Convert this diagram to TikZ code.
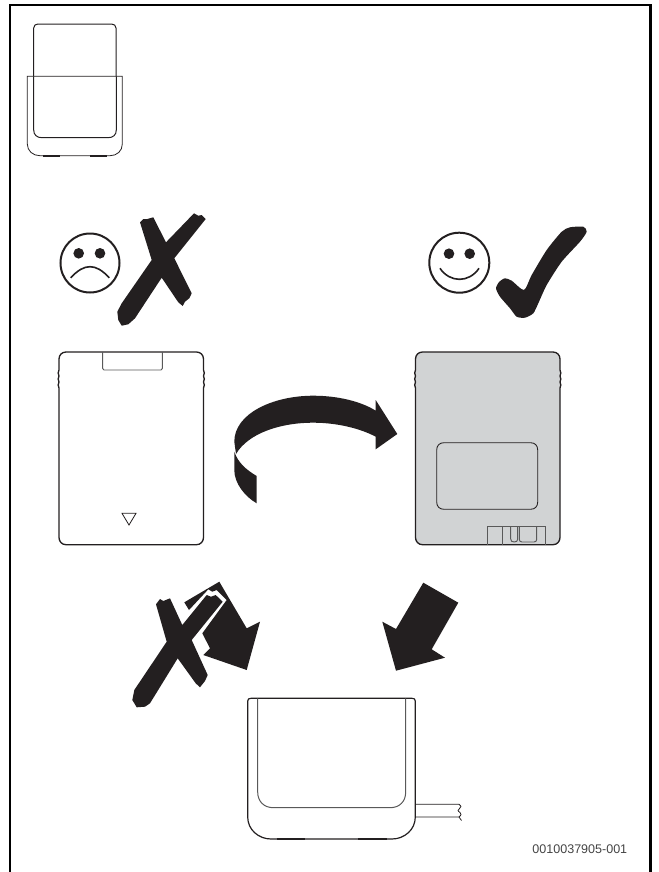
\documentclass[tikz,border=0pt]{standalone}
\usepackage{fontspec}
\setsansfont{Liberation Sans}
\usetikzlibrary{positioning,calc}
\definecolor{inkblack}{HTML}{231F20}
\definecolor{cardgray}{HTML}{D1D3D4}
\definecolor{codegray}{HTML}{444444}
\tikzset{
	frameline/.style={line width=1.6pt,black},
	thinline/.style={line width=0.75pt,inkblack},
	softline/.style={line width=0.7pt,black!65},
	blackfill/.style={fill=inkblack,draw=none},
	faceline/.style={line width=1.5pt,inkblack},
	codetext/.style={font=\sffamily\fontsize{9.4pt}{11pt}\selectfont,text=codegray,inner sep=0pt,anchor=base east}
}
\newcommand{\cardoutline}{(66,352) -- (196.5,352) .. controls (200.5,352) and (203.5,355) .. (203.5,359)
	-- (203.5,370) .. controls (204.6,373) .. (203.5,376) .. controls (204.6,379) .. (203.5,382) .. controls (204.6,385) .. (203.5,388)
	-- (203.5,537.5) .. controls (203.5,541.5) and (200.5,544.7) .. (196.5,544.7) -- (66,544.7) .. controls (62,544.7) and (59,541.5) .. (59,537.5)
	-- (59,388) .. controls (57.9,385) .. (59,382) .. controls (57.9,379) .. (59,376) .. controls (57.9,373) .. (59,370)
	-- (59,359) .. controls (59,355) and (62,352) .. (66,352) -- cycle}
\begin{document}
\begin{tikzpicture}[x=0.75pt,y=-0.75pt]
	\useasboundingbox (0,0) rectangle (658,872);
	\draw[frameline] (10.3,872) -- (10.3,5.3) -- (650.5,5.3) -- (650.5,872);

	% holder with card, top left
	\draw[thinline] (33.7,76.3) -- (33.7,28) .. controls (33.7,25.5) and (35.5,24) .. (38,24) -- (111.5,24) .. controls (114,24) and (116,25.5) .. (116,28) -- (116,76.3);
	\draw[thinline] (33.7,76.3) -- (33.7,130) .. controls (33.7,135) and (37,137.7) .. (42,137.7) -- (108,137.7) .. controls (113,137.7) and (116.3,135) .. (116.3,130) -- (116.3,76.3);
	\draw[thinline,line width=0.6pt] (27.3,76.3) -- (122.3,76.3) -- (122.3,144) .. controls (122.3,151) and (117,155.7) .. (110,155.7) -- (40,155.7) .. controls (33,155.7) and (27.3,151) .. (27.3,144) -- cycle;
	\draw[thinline,line width=1.3pt] (43,155.7) -- (60,155.7);
	\draw[thinline,line width=1.3pt] (90,155.7) -- (107,155.7);

	% sad face and cross
	\draw[faceline] (90,263) circle (29.5);
	\fill[inkblack] (78.7,253.3) circle (5.3);
	\fill[inkblack] (100,253.3) circle (5.3);
	\draw[thinline,line width=1.2pt] (70.7,277.7) .. controls (78,270) and (84,266.7) .. (90,266.7) .. controls (96,266.7) and (102,270) .. (109.3,277.7);
	\path[blackfill] (140,222.3) -- (143.3,219) -- (147.3,219) -- (153.3,217.3) -- (166,242.3) -- (194,213.3) -- (198.3,215.7) -- (201.7,215) -- (205.7,219) -- (174.3,258.3)
		-- (191.7,293.3) -- (189.3,298.3) -- (185,301.7) -- (182.7,306) -- (178.3,302.3) -- (161.7,277.7) -- (135,318.3) -- (128.3,324.3) -- (121.7,325.7) -- (118.3,320) -- (117.3,311.7) -- (121.7,303.3) -- (151.7,260) -- cycle;

	% happy face and check mark
	\draw[faceline] (459.3,262.7) circle (30);
	\fill[inkblack] (449,253.7) circle (5.3);
	\fill[inkblack] (469.7,253.7) circle (5.3);
	\draw[thinline,line width=1.2pt] (440,268.3) .. controls (450,283) and (469,283) .. (479,268.3);
	\fill[inkblack] plot[smooth cycle,tension=0.4] coordinates {(496,288.3) (499.3,281.7) (505,278.3) (511.7,280.7) (524,290) (531.7,275) (546.7,250) (561.7,231.7) (570,227.3) (583.3,226.7) (586.7,231.7) (580,241.7) (561.7,261.7) (546.7,285) (538.3,303.3) (533.3,313.3) (525,317.7) (516.7,316.7) (510,308.3) (500,296.7)};

	% left card
	\draw[thinline,line width=1pt] \cardoutline;
	\draw[softline] (102.7,352) -- (102.7,368.5) -- (104,370) -- (161,370) -- (162.3,368.5) -- (162.3,352);
	\draw[thinline,line width=0.6pt] (122,513.3) -- (136,513.3) -- (129,525) -- cycle;

	% turn over arrow
	\path[blackfill] (234.3,441.7) .. controls (234.3,413.3) and (273.3,395.7) .. (313.3,395.7) .. controls (338.3,395.7) and (361.7,401.7) .. (375.7,410.7)
		-- (375.7,400) -- (397.3,434) -- (375.7,449.3) -- (375.7,436.7) .. controls (360,428.3) and (336.7,422.7) .. (313.3,422.7) .. controls (280,422.7) and (248.3,433.3) .. (236,454) -- cycle;
	\path[blackfill] (234.3,451.7) -- (234.3,470) .. controls (234.3,483.3) and (245,496.7) .. (256.7,503.3) -- (256.7,476) .. controls (246.7,470) and (238.3,463.3) .. (234.3,451.7) -- cycle;

	% right card
	\begin{scope}[shift={(356.5,0)}]
		\draw[thinline,line width=1pt,fill=cardgray] \cardoutline;
	\end{scope}
	\draw[thinline,line width=0.65pt] (444,442.7) -- (530.5,442.7) .. controls (535,442.7) and (537.7,445.5) .. (537.7,450) -- (537.7,502) .. controls (537.7,506.5) and (535,509.3) .. (530.5,509.3) -- (444,509.3) .. controls (439.5,509.3) and (436.7,506.5) .. (436.7,502) -- (436.7,450) .. controls (436.7,445.5) and (439.5,442.7) .. (444,442.7) -- cycle;
	\draw[softline] (487,544.7) -- (487,526) -- (545,526) -- (545,544.7);
	\draw[softline] (502.7,526) -- (502.7,544.7);
	\draw[softline] (510.7,526) -- (510.7,539) .. controls (510.7,541) and (512,542) .. (514.2,542) .. controls (516.5,542) and (517.7,541) .. (517.7,539) -- (517.7,526);
	\draw[softline] (519.3,526) -- (519.3,539.5) .. controls (519.3,541) and (520.5,542) .. (522,542) -- (534,542) .. controls (535.5,542) and (536.7,541) .. (536.7,539.5) -- (536.7,526);

	% lower arrows, the left one struck through
	\path[blackfill] (184.3,602.3) -- (219.3,581.7) -- (246.7,628.3) -- (260,621.7) -- (246.7,670) -- (203.3,655) -- (210,648.3) -- (202.3,633.3) -- (226.7,600) -- (216.7,590) -- (212.3,591.7) -- (208.3,589.3) -- (189,610) -- cycle;
	\path[blackfill] (156,604.3) -- (160,599) -- (163.3,601) -- (170,598.3) -- (182.3,625) -- (206.7,595) -- (211,596.7) -- (215.7,595) -- (222.7,601.7) -- (191.7,640)
		-- (207.7,675) -- (205,681) -- (200,687.3) -- (195.7,683.3) -- (177.7,658.3) -- (150,703.3) -- (145,706.7) -- (136.7,707.3) -- (132.3,700) -- (134.3,690) -- (166.7,641.7) -- cycle;
	\path[blackfill] (423.3,582.7) -- (458.3,602.7) -- (431.7,649.3) -- (445,657.7) -- (396,670.7) -- (382.3,621.7) -- (396,629) -- cycle;

	% holder, bottom
	\draw[thinline,line width=0.9pt] (247.7,701) .. controls (247.7,699) and (249,698.3) .. (251,698.3) -- (412,698.3) .. controls (414,698.3) and (415.3,699) .. (415.3,701) -- (415.3,817)
		.. controls (415.3,830) and (404,839) .. (392,839) -- (271,839) .. controls (259,839) and (247.7,830) .. (247.7,817) -- cycle;
	\draw[softline,line width=0.75pt] (257.7,698.3) -- (257.7,792) .. controls (257.7,801.5) and (264,807.7) .. (273.5,807.7) -- (390,807.7) .. controls (399.5,807.7) and (405.7,801.5) .. (405.7,792) -- (405.7,698.3);
	\draw[thinline,line width=1.3pt] (276.7,839) -- (305,839);
	\draw[thinline,line width=1.3pt] (358,839) -- (386.7,839);
	\draw[thinline,line width=0.6pt] (415.3,804.3) -- (459,804.3) .. controls (461.5,806.5) .. (459.5,808.5) .. controls (457.5,810.5) .. (460,812.5) .. controls (461.5,814.5) .. (459,817) -- (415.3,817);
	\draw[thinline,line width=0.6pt] (459,817) .. controls (461,819) .. (461.5,820.5);

	\node[codetext] (partcode) at (627.5,853) {0010037905-001};
\end{tikzpicture}
\end{document}
